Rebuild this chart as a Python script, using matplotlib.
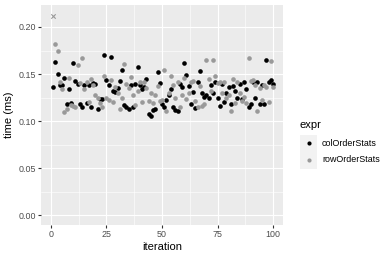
import matplotlib
matplotlib.use("Agg")
import matplotlib.pyplot as plt
import numpy as np
from matplotlib.patches import Rectangle

plt.rcParams['font.family'] = ['Liberation Sans', 'DejaVu Sans']

iterations = list(range(1, 101))
col_order_stats = [
    .136, .163, .150, .138, .138, .146, .118, .134, .119, .162,
    .143, .139, .118, .115, .138, .119, .138, .115, .140, .139,
    .113, .123, .123, .170, .144, .138, .168, .132, .131, .135,
    .143, .154, .117, .115, .113, .138, .115, .139, .157, .138,
    .134, .136, .145, .107, .105, .112, .113, .152, .140, .118,
    .115, .122, .128, .134, .115, .112, .111, .139, .136, .162,
    .149, .137, .118, .131, .114, .141, .153, .130, .126, .128,
    .124, .138, .130, .142, .124, .116, .139, .120, .130, .136,
    .118, .137, .132, .125, .139, .123, .141, .134, .115, .118,
    .141, .124, .142, .118, .138, .118, .165, .141, .144, .139,
]
row_order_stats = [
    .212, .182, .174, .142, .134, .110, .113, .146, .117, .116,
    .115, .160, .140, .167, .134, .141, .120, .145, .138, .128,
    .124, .119, .115, .148, .125, .122, .144, .120, .136, .130,
    .113, .124, .161, .139, .135, .147, .128, .117, .132, .141,
    .120, .142, .135, .121, .130, .119, .128, .137, .121, .122,
    .154, .111, .130, .148, .138, .125, .141, .115, .128, .146,
    .123, .130, .141, .143, .121, .115, .137, .116, .118, .165,
    .145, .132, .165, .148, .140, .142, .130, .141, .125, .128,
    .111, .145, .119, .142, .130, .121, .126, .119, .167, .143,
    .144, .138, .111, .135, .122, .138, .136, .120, .164, .136,
]
series_names = ["colOrderStats", "rowOrderStats"]
series_colors = ["#000000", "#999999"]
x_ticks = [0, 25, 50, 75, 100]
y_ticks = [0.00, 0.05, 0.10, 0.15, 0.20]

fig = plt.figure(figsize=(3.9, 2.6), dpi=100)
ax = fig.add_axes([41/390, 1-225/260, (283-41)/390, (225-5)/260])
ax.set_facecolor("#EBEBEB")
for s in ax.spines.values():
    s.set_visible(False)

it = np.array(iterations)
ys = [np.array(col_order_stats), np.array(row_order_stats)]
for y, c in zip(ys, series_colors):
    imax = int(np.argmax(y))
    mask = np.ones_like(y, dtype=bool)
    if y[imax] > 0.2:
        mask[imax] = False
        ax.scatter(it[imax], y[imax], s=10, marker="x", c=c, linewidths=0.8, zorder=3)
    ax.scatter(it[mask], y[mask], s=11, marker="o", c=c, linewidths=0, zorder=3)

ax.set_xlim(-4.5, 104.5)
ax.set_ylim(-0.0106, 0.2234)
ax.set_xticks(x_ticks)
ax.set_yticks(y_ticks)
ax.set_xticks([12.5, 37.5, 62.5, 87.5], minor=True)
ax.set_yticks([0.025, 0.075, 0.125, 0.175], minor=True)
ax.grid(True, which="major", color="white", linewidth=0.8)
ax.grid(True, which="minor", color="white", linewidth=0.4)
ax.set_axisbelow(True)
ax.set_xticklabels([str(v) for v in x_ticks])
ax.set_yticklabels([f"{v:.2f}" for v in y_ticks])
ax.tick_params(which="major", length=2.0, width=0.8, color="#333333",
               labelsize=6.4, labelcolor="#4D4D4D", pad=1.5)
ax.tick_params(which="minor", length=0)
ax.set_xlabel("iteration", fontsize=8, labelpad=2)
ax.set_ylabel("time (ms)", fontsize=8, labelpad=3)

# legend
fig.text(300/390, 1-125/260, "expr", fontsize=8, va="center", ha="left")
for k, (name, c) in enumerate(zip(series_names, series_colors)):
    yc = 143 + k * 17
    fig.patches.append(Rectangle((300/390, 1-(yc+8.5)/260), 17/390, 17/260,
                                 transform=fig.transFigure, facecolor="#F2F2F2",
                                 edgecolor="none"))
    fig.lines.append(plt.Line2D([308.5/390], [1-yc/260], marker="o", markersize=3,
                                color=c, markeredgewidth=0, transform=fig.transFigure))
    fig.text(322/390, 1-yc/260, name, fontsize=6.4, va="center", ha="left")

fig.savefig("out.png", dpi=100)
